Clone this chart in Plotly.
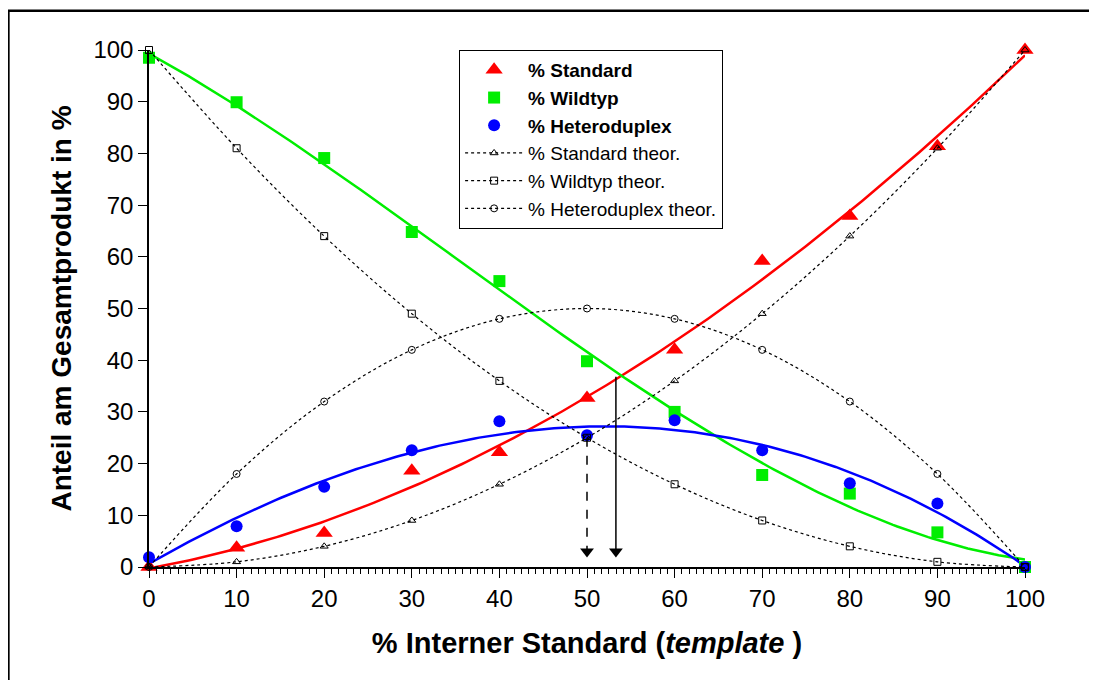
import numpy as np
import plotly.graph_objects as go

# % internal standard (template) in the mix
template_pct = [0, 10, 20, 30, 40, 50, 60, 70, 80, 90, 100]

standard = [0, 3.7, 6.6, 18.6, 22.2, 32.7, 42.0, 59.2, 67.9, 81.4, 100]
wildtyp = [98.5, 89.9, 79.1, 64.8, 55.3, 39.8, 30.0, 17.8, 14.2, 6.7, 0]
heteroduplex = [1.9, 7.9, 15.5, 22.6, 28.2, 25.5, 28.4, 22.6, 16.2, 12.3, 0]

# theoretical shares
standard_theor = [0, 1, 4, 9, 16, 25, 36, 49, 64, 81, 100]
wildtyp_theor = [100, 81, 64, 49, 36, 25, 16, 9, 4, 1, 0]
heteroduplex_theor = [0, 18, 32, 42, 48, 50, 48, 42, 32, 18, 0]

# arrows: (x, y_start, y_end)
arrow_theor = (50, 25, 1.5)
arrow_meas = (53.3, 36.8, 1.5)

FONT = "Arial, Liberation Sans, sans-serif"


def fit_curve(x, y, deg=3):
    """Polynomial regression line through the measured points"""
    coef = np.polyfit(x, y, deg)
    xs = np.linspace(min(x), max(x), 200)
    return xs, np.polyval(coef, xs)


fig = go.Figure()

# regression lines
for vals, color in [(standard, "#ff0000"), (wildtyp, "#00ee00"), (heteroduplex, "#0000ff")]:
    xs, ys = fit_curve(template_pct, vals)
    fig.add_trace(go.Scatter(x=xs, y=ys, mode="lines", showlegend=False,
                             line=dict(color=color, width=2.5)))

# theoretical curves
theor = [
    (standard_theor, "triangle-up-open", "% Standard theor."),
    (wildtyp_theor, "square-open", "% Wildtyp theor."),
    (heteroduplex_theor, "circle-open", "% Heteroduplex theor."),
]

# measured points
meas = [
    (standard, "triangle-up", "#ff0000", 15, "<b>% Standard</b>"),
    (wildtyp, "square", "#00ee00", 12, "<b>% Wildtyp</b>"),
    (heteroduplex, "circle", "#0000ff", 12, "<b>% Heteroduplex</b>"),
]
for vals, sym, color, size, name in meas:
    fig.add_trace(go.Scatter(x=template_pct, y=vals, mode="markers", name=name,
                             marker=dict(symbol=sym, color=color, size=size),
                             cliponaxis=False))

for vals, sym, name in theor:
    fig.add_trace(go.Scatter(x=template_pct, y=vals, mode="lines+markers", name=name,
                             line=dict(color="black", width=1.2, dash="dot", shape="spline"),
                             marker=dict(symbol=sym, color="black", size=7, line=dict(width=1)),
                             cliponaxis=False))

# arrows
for (ax, y0, y1), dash in [(arrow_theor, "dash"), (arrow_meas, "solid")]:
    fig.add_trace(go.Scatter(x=[ax, ax], y=[y0, y1 + 1.5], mode="lines", showlegend=False,
                             line=dict(color="black", width=1.5, dash=dash)))
    fig.add_trace(go.Scatter(x=[ax], y=[y1 + 1.5], mode="markers", showlegend=False,
                             marker=dict(symbol="triangle-down", color="black", size=12)))

# outer frame
fig.add_shape(type="rect", xref="paper", yref="paper",
              x0=-0.1605, x1=1.09, y0=-0.24, y1=1.076,
              line=dict(color="black", width=2.5), layer="below")

fig.update_layout(
    width=1097, height=680,
    margin=dict(l=141, r=80, t=42, b=121),
    plot_bgcolor="white", paper_bgcolor="white",
    font=dict(family=FONT, color="black", size=24),
    xaxis=dict(
        range=[0, 100], dtick=10, tick0=0, showgrid=False, zeroline=False,
        showline=True, linecolor="black", linewidth=1.5, automargin=False,
        ticks="outside", ticklen=9, tickwidth=1.2, tickcolor="black",
        minor=dict(dtick=10 / 12, tick0=0, ticks="outside", ticklen=5, tickwidth=1, tickcolor="black"),
        tickfont=dict(size=24),
        title=dict(text="<b>% Interner Standard (<i>template</i> )</b>", font=dict(size=29), standoff=22),
    ),
    yaxis=dict(
        range=[0, 100], dtick=10, tick0=0, showgrid=False, zeroline=False,
        showline=True, linecolor="black", linewidth=1.5, automargin=False,
        ticks="outside", ticklen=9, tickwidth=1.2, tickcolor="black",
        tickfont=dict(size=24),
        title=dict(text="<b>Anteil am Gesamtprodukt in %</b>", font=dict(size=28), standoff=14),
    ),
    legend=dict(
        x=0.354, y=1.0, xanchor="left", yanchor="top",
        bgcolor="white", bordercolor="black", borderwidth=1,
        font=dict(size=19, family=FONT), itemwidth=58,
        tracegroupgap=0,
    ),
)

fig.write_html("out.html")
